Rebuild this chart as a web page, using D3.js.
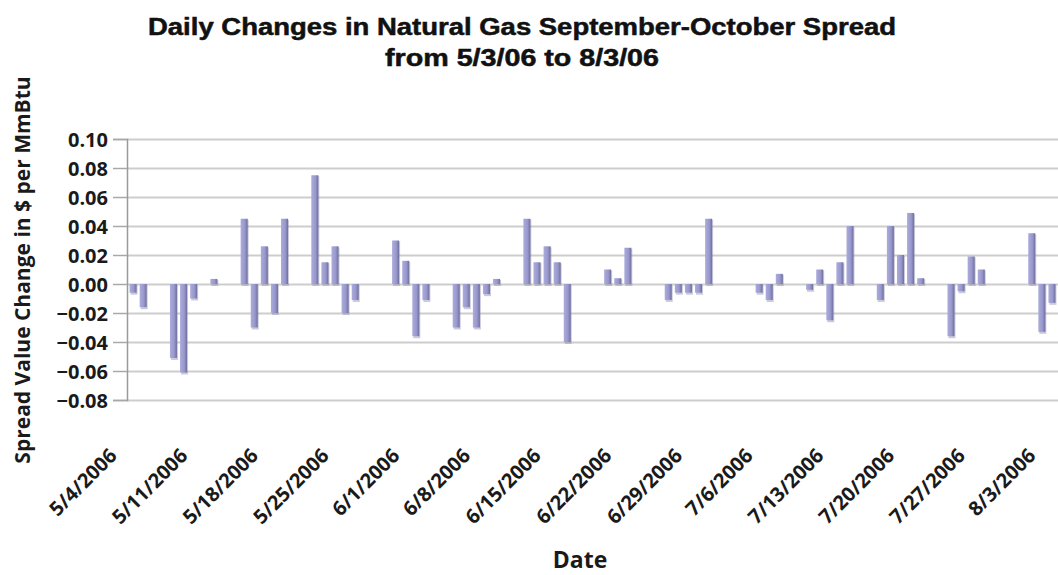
<!DOCTYPE html>
<html>
<head>
<meta charset="utf-8">
<script src="https://cdn.jsdelivr.net/npm/d3@7"></script>
<style>
  html, body { margin: 0; padding: 0; background: #fff; }
  svg { display: block; }
  .title { font-family: "Liberation Sans", Arial, sans-serif; font-weight: 700; font-size: 23px; fill: #111; stroke: #111; stroke-width: 0.5px; }
  .lab { font-family: "Open Sans", sans-serif; font-weight: 700; fill: #1a1a1a; }
</style>
</head>
<body>
<div id="chart"></div>
<script>
// trading days (2006) and the daily change of the Sep-Oct spread, $ per MmBtu
const dates = [
  "5/4","5/5","5/8","5/9","5/10","5/11","5/12",
  "5/15","5/16","5/17","5/18","5/19",
  "5/22","5/23","5/24","5/25","5/26",
  "5/30","5/31","6/1","6/2",
  "6/5","6/6","6/7","6/8","6/9",
  "6/12","6/13","6/14","6/15","6/16",
  "6/19","6/20","6/21","6/22","6/23",
  "6/26","6/27","6/28","6/29","6/30",
  "7/3","7/5","7/6","7/7",
  "7/10","7/11","7/12","7/13","7/14",
  "7/17","7/18","7/19","7/20","7/21",
  "7/24","7/25","7/26","7/27","7/28",
  "7/31","8/1","8/2","8/3"
];
const changes = [
  -0.006, -0.016, -0.051, -0.061, -0.010, 0, 0.0035,
  0.045, -0.030, 0.026, -0.020, 0.045,
  0.075, 0.015, 0.026, -0.020, -0.011,
  0.030, 0.016, -0.036, -0.011,
  -0.030, -0.016, -0.030, -0.007, 0.0035,
  0.045, 0.015, 0.026, 0.015, -0.040,
  0, 0.010, 0.004, 0.025, 0,
  -0.011, -0.006, -0.006, -0.006, 0.045,
  0, -0.006, -0.011, 0.007,
  -0.004, 0.010, -0.025, 0.015, 0.040,
  -0.011, 0.040, 0.020, 0.049, 0.004,
  -0.036, -0.005, 0.019, 0.010, 0,
  0, 0.035, -0.033, -0.013
];
const tickDates = ["5/4","5/11","5/18","5/25","6/1","6/8","6/15","6/22","6/29","7/6","7/13","7/20","7/27","8/3"];
const yTicks = [-0.08, -0.06, -0.04, -0.02, 0, 0.02, 0.04, 0.06, 0.08, 0.10];

const title1 = "Daily Changes in Natural Gas September-October Spread";
const title2 = "from 5/3/06 to 8/3/06";
const yTitle = "Spread Value Change in $ per MmBtu";
const xTitle = "Date";

const W = 1058, H = 575;
const parse = s => { const [m, d] = s.split("/").map(Number); return new Date(Date.UTC(2006, m - 1, d)); };
const data = dates.map((d, i) => ({ date: parse(d), value: changes[i] }));

const svg = d3.select("#chart").append("svg").attr("width", W).attr("height", H);

// plot box: left axis line at 127, right edge of the image
const x = d3.scaleUtc()
  .domain([new Date(Date.UTC(2006, 4, 3, 9, 36)), new Date(Date.UTC(2006, 7, 3, 14, 24))])
  .range([127, 1058]);
const y = d3.scaleLinear().domain([-0.08, 0.10]).range([400, 139]);

// gridlines + left ticks
svg.append("g")
  .attr("transform", "translate(127,0)")
  .call(d3.axisLeft(y).tickValues(yTicks).tickSize(-(1058 - 127)).tickFormat(""))
  .call(g => g.select(".domain").remove())
  .selectAll("line").attr("stroke", "#cdcdcd").attr("stroke-width", 2);

svg.append("g")
  .attr("transform", "translate(127,0)")
  .call(d3.axisLeft(y).tickValues(yTicks).tickSize(14).tickPadding(5).tickFormat(d3.format(".2f")))
  .call(g => g.select(".domain").attr("stroke", "#9a9a9a").attr("stroke-width", 1.5))
  .call(g => g.selectAll("line").attr("stroke", "#a8a8a8").attr("stroke-width", 1.5))
  .call(g => g.selectAll("text").attr("class", "lab").attr("font-size", 20).attr("dy", "0.36em"));

// bars
const defs = svg.append("defs");
const grad = defs.append("linearGradient").attr("id", "barg").attr("x1", 0).attr("x2", 1).attr("y1", 0).attr("y2", 0);
grad.append("stop").attr("offset", "0%").attr("stop-color", "#ababdc");
grad.append("stop").attr("offset", "60%").attr("stop-color", "#9898cc");
grad.append("stop").attr("offset", "100%").attr("stop-color", "#6e6e9e");

const bw = 7;
const bars = svg.append("g");
bars.selectAll("rect.shadow")
  .data(data.filter(d => d.value !== 0))
  .join("rect")
  .attr("class", "shadow")
  .attr("x", d => x(d.date) - bw / 2 + 1)
  .attr("y", d => Math.min(y(d.value), y(0)) + 1)
  .attr("width", bw)
  .attr("height", d => Math.abs(y(d.value) - y(0)) + 1)
  .attr("fill", "#8a8ab0")
  .attr("opacity", 0.45);
bars.selectAll("rect.bar")
  .data(data.filter(d => d.value !== 0))
  .join("rect")
  .attr("class", "bar")
  .attr("x", d => x(d.date) - bw / 2)
  .attr("y", d => Math.min(y(d.value), y(0)))
  .attr("width", bw)
  .attr("height", d => Math.abs(y(d.value) - y(0)))
  .attr("fill", "url(#barg)");

// x tick labels, rotated
svg.append("g").selectAll("text")
  .data(tickDates)
  .join("text")
  .attr("class", "lab")
  .attr("font-size", 20)
  .attr("text-anchor", "end")
  .attr("transform", d => `translate(${x(parse(d)) - 15},457) rotate(-45)`)
  .text(d => d + "/2006");

// titles
svg.append("text").attr("class", "title").attr("x", 522).attr("y", 35).attr("text-anchor", "middle")
  .attr("textLength", 748).attr("lengthAdjust", "spacingAndGlyphs").text(title1);
svg.append("text").attr("class", "title").attr("x", 522).attr("y", 66).attr("text-anchor", "middle")
  .attr("textLength", 274).attr("lengthAdjust", "spacingAndGlyphs").text(title2);

svg.append("text").attr("class", "lab").attr("font-size", 21)
  .attr("text-anchor", "middle")
  .attr("transform", "translate(30,270) rotate(-90)")
  .text(yTitle);

svg.append("text").attr("class", "lab").attr("font-size", 23)
  .attr("text-anchor", "middle")
  .attr("x", 580).attr("y", 568)
  .text(xTitle);
</script>
</body>
</html>
